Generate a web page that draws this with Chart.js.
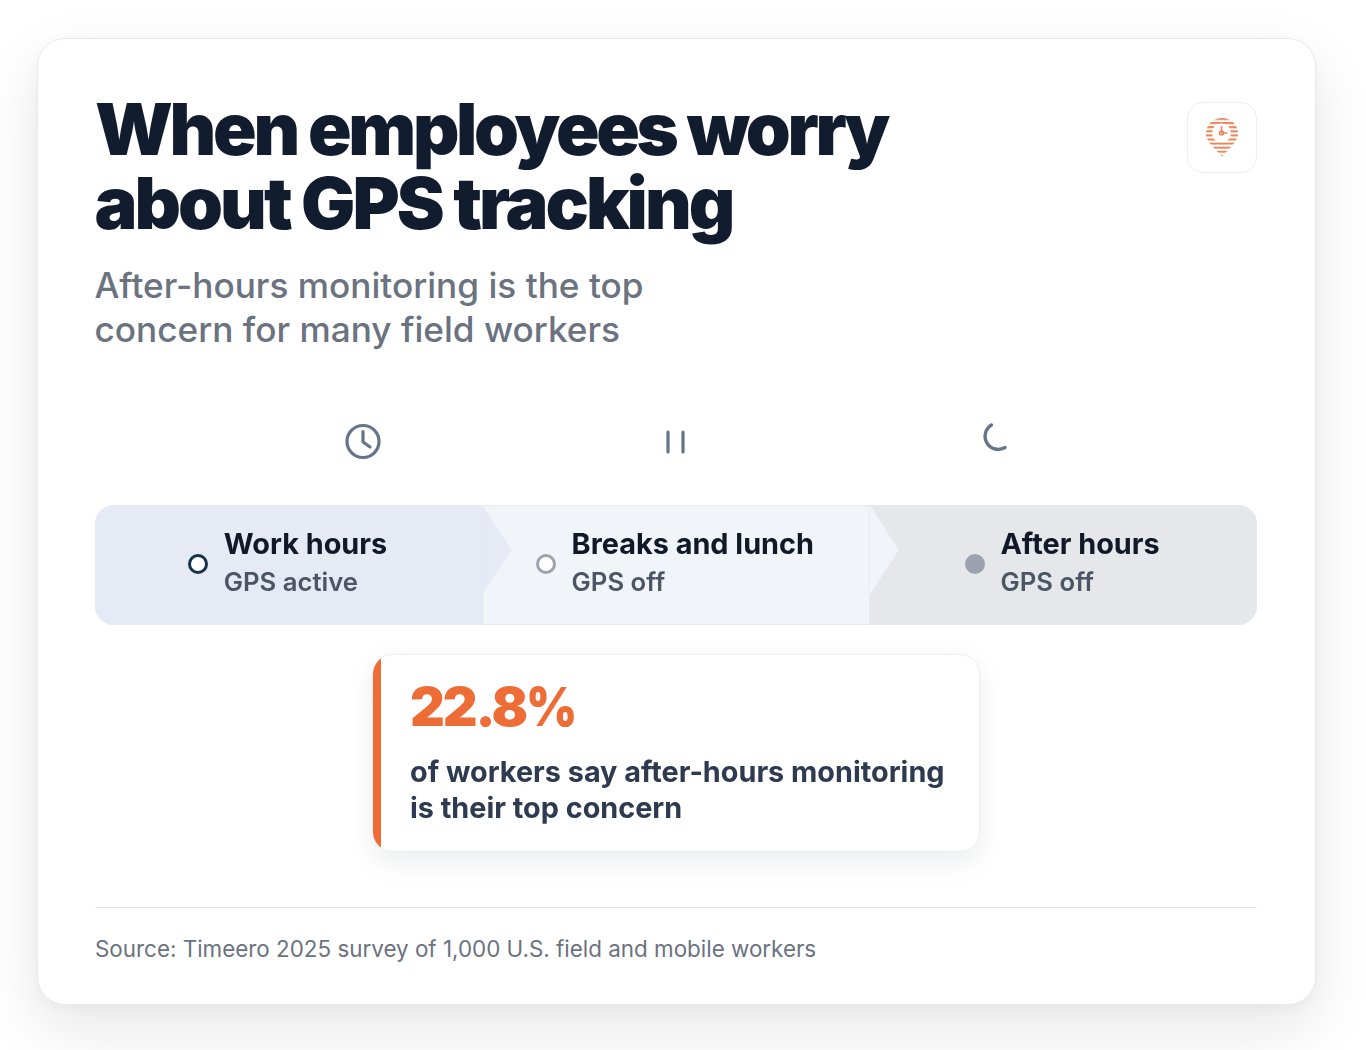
<!DOCTYPE html>
<html><head><meta charset="utf-8">
<script src="https://cdn.jsdelivr.net/npm/chart.js@4"></script>
<style>
html,body{margin:0;padding:0;width:1366px;height:1050px;background:#fff;overflow:hidden;font-family:Inter,sans-serif}
.abs{position:absolute}
#card{left:36.500px;top:37.500px;width:1277px;height:965px;background:#fff;border:1px solid #e9e9ec;border-radius:28px;box-shadow:0 24px 60px rgba(17,24,39,.10),0 4px 12px rgba(17,24,39,.03)}
#title{left:95px;top:92px;margin:0;font-size:72px;line-height:74px;font-weight:900;color:#111c2e;white-space:nowrap}
#title div{height:74px}
#t1{letter-spacing:-3.3px}#t2{letter-spacing:-2.95px;margin-left:-.5px}
#sub{left:94.500px;top:263px;margin:0;font-size:35.200px;line-height:44px;font-weight:500;color:#6b7280;white-space:nowrap}
#logo{left:1187px;top:102px;width:68px;height:69px;border:1px solid #eceef1;border-radius:16px;background:#fff}
#wrap{left:95px;top:505px;width:1162px;height:120px}
#labels{left:95px;top:505px;width:1162px;height:120px}
.seg{position:absolute;top:0;height:120px;display:flex;align-items:center;justify-content:center}
.dot{width:20px;height:20px;box-sizing:border-box;border-radius:50%;margin-right:16px;flex:none;position:relative;top:-1px;left:-.8px}
.txt{position:relative;top:-2px;left:-1.200px}
.n{font-size:28.850px;line-height:38px;font-weight:700;color:#111827;white-space:nowrap}
.s{font-size:25.700px;line-height:38px;font-weight:600;color:#4b5563;white-space:nowrap}
#call{left:372px;top:653.500px;width:607.500px;height:198px;box-sizing:border-box;background:#fff;border:1px solid #eceef1;border-radius:20px;box-shadow:0 10px 28px rgba(17,24,39,.08);overflow:hidden}
#accent{left:-1px;top:-1px;width:9px;height:198px;background:#ee6c36}
#stat{left:410px;top:674px;font-size:54px;line-height:66px;font-weight:900;color:#ee6c36;letter-spacing:-2.200px;white-space:nowrap}
#stat span{display:inline-block;transform:scaleX(.91);transform-origin:0 50%;letter-spacing:0}
#desc{left:410px;top:753.500px;font-size:28.800px;line-height:36px;font-weight:700;color:#2d3a4f;white-space:nowrap}
#rule{left:95px;top:907px;width:1162px;height:1px;background:#e5e7eb}
#src{left:95px;top:935px;font-size:22.400px;line-height:28px;color:#6b7280;white-space:nowrap}
</style></head><body>
<div id="card" class="abs"></div>
<h1 id="title" class="abs"><div id="t1">When employees worry</div><div id="t2">about GPS tracking</div></h1>
<p id="sub" class="abs">After-hours monitoring is the top<br>concern for many field workers</p>
<div id="logo" class="abs">
<svg width="68" height="69" viewBox="0 0 68 69"><defs>
<pattern id="st" width="6" height="4.100" patternUnits="userSpaceOnUse" y="15"><rect width="6" height="2" fill="#ea8557"/></pattern></defs>
<path d="M34 15c-9 0-16 7-16 15.500 0 6 4 10 8 14.500l8 8.500 8-8.500c4-4.500 8-8.500 8-14.500C50 22 43 15 34 15z" fill="url(#st)"/>
<circle cx="33.500" cy="30" r="9.500" fill="#fff"/><circle cx="33.500" cy="30" r="2" fill="none" stroke="#ea8557" stroke-width="1.500"/>
<path d="M33.500 23v7h6" fill="none" stroke="#ea8557" stroke-width="1.500"/></svg></div>
<svg class="abs" style="left:340px;top:420px" width="46" height="44" viewBox="0 0 46 44" fill="none" stroke="#64748b" stroke-width="3.200" stroke-linecap="round" stroke-linejoin="round"><circle cx="23" cy="21.500" r="16"/><path d="M23 11.500v10.500l7 5"/></svg>
<svg class="abs" style="left:660px;top:425px" width="32" height="34" viewBox="0 0 32 34" fill="none" stroke="#64748b" stroke-width="3.200" stroke-linecap="round"><path d="M8 7v20M23 7v20"/></svg>
<svg class="abs" style="left:973.500px;top:418px" width="40" height="38" viewBox="0 0 40 38" fill="none" stroke="#64748b" stroke-width="3.400" stroke-linecap="round"><path d="M17.500 7A13 13 0 1 0 31 29.500"/></svg>
<div id="wrap" class="abs"><canvas id="c" width="1162" height="120"></canvas></div>
<div id="labels" class="abs"></div>
<div id="call" class="abs"><div id="accent" class="abs"></div></div>
<div id="stat" class="abs">22.8<span>%</span></div>
<div id="desc" class="abs">of workers say after-hours monitoring<br>is their top concern</div>
<div id="rule" class="abs"></div>
<div id="src" class="abs">Source: Timeero 2025 survey of 1,000 U.S. field and mobile workers</div>
<script>
const categories=["Work hours","Breaks and lunch","After hours"];
const gpsStatus=["GPS active","GPS off","GPS off"];
const segmentShare=[1,1,1];
const fills=["#e5eaf4","#f1f5f9","#e5e7eb"];
const dotStyles=["background:#fff;border:3px solid #17324d","background:#fff;border:3px solid #9ca3af","background:#9ca3af"];

const chevrons={id:"chevrons",afterDatasetsDraw(chart){
  const {ctx,scales:{x},chartArea:a}=chart;let run=0;
  segmentShare.slice(0,-1).forEach((v,i)=>{run+=v;const p=x.getPixelForValue(run);
    ctx.save();
    ctx.fillStyle="#e2e5ea";ctx.fillRect(p-.5,a.top,1,a.bottom-a.top);
    ctx.fillStyle=fills[i];ctx.beginPath();ctx.moveTo(p,a.top);ctx.lineTo(p+29,a.top+45);ctx.lineTo(p,a.top+90);ctx.closePath();ctx.fill();
    if(i===0){ctx.fillRect(p-.5,a.top,1.5,a.bottom-a.top);}
    ctx.restore();});
  ctx.save();ctx.strokeStyle="#e6e9ee";ctx.lineWidth=1;
  const xa=x.getPixelForValue(segmentShare[0]),xb=x.getPixelForValue(segmentShare[0]+segmentShare[1]);
  ctx.beginPath();ctx.moveTo(xa,a.top+.5);ctx.lineTo(xb,a.top+.5);ctx.moveTo(xa,a.bottom-.5);ctx.lineTo(xb,a.bottom-.5);ctx.stroke();ctx.restore();
}};
const labelPlugin={id:"labelPlugin",afterRender(chart){
  const box=document.getElementById("labels");if(box.childElementCount)return;
  const x=chart.scales.x;let run=0;
  categories.forEach((c,i)=>{const l=x.getPixelForValue(run);run+=segmentShare[i];const r=x.getPixelForValue(run);
    const s=document.createElement("div");s.className="seg";s.style.left=l+"px";s.style.width=(r-l)+"px";
    s.innerHTML=`<span class="dot" style="${dotStyles[i]}"></span><div class="txt"><div class="n">${c}</div><div class="s">${gpsStatus[i]}</div></div>`;box.appendChild(s);});
}};
new Chart(document.getElementById("c"),{type:"bar",
 data:{labels:["Day"],datasets:categories.map((c,i)=>({label:c,data:[segmentShare[i]],backgroundColor:fills[i],borderWidth:0,borderSkipped:false,
   borderRadius:i===0?{topLeft:20,bottomLeft:20}:i===categories.length-1?{topRight:20,bottomRight:20}:0,
   categoryPercentage:1,barPercentage:1}))},
 options:{indexAxis:"y",responsive:false,animation:false,layout:{padding:0},
  plugins:{legend:{display:false},tooltip:{enabled:false}},
  scales:{x:{stacked:true,display:false,min:0,max:segmentShare.reduce((a,b)=>a+b,0)},y:{stacked:true,display:false}}},
 plugins:[chevrons,labelPlugin]});
</script>
</body></html>
